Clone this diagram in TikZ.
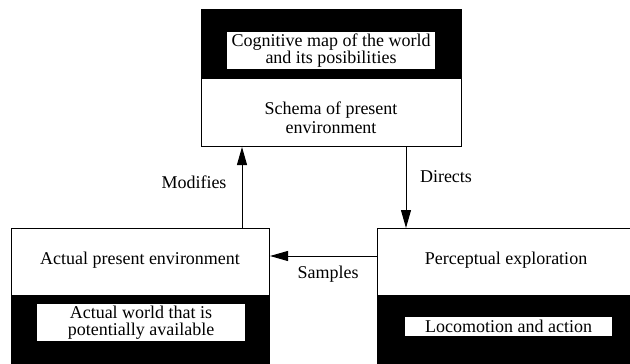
\documentclass[tikz,border=0pt]{standalone}
\usepackage{fontspec}
\setmainfont{Liberation Serif}
\usetikzlibrary{arrows.meta}
\begin{document}
\begin{tikzpicture}[x=1pt,y=-1pt,
  frame/.style={draw=black, line width=1pt, fill=white, inner sep=0pt,
    anchor=north west, minimum width=#1, minimum height=150pt},
  caption/.style={fill=white, inner sep=0pt, align=center,
    font=\fontsize{18}{17.5}\selectfont},
  plain/.style={inner sep=0pt, align=center,
    font=\fontsize{18}{18.5}\selectfont},
  arr/.style={line width=1pt, -{Triangle[length=18pt,width=10pt]}}]
\useasboundingbox (0,0) rectangle (630,364);
\fill[white] (0,0) rectangle (630,364);
\clip (0,0) rectangle (630,364);

% top box: black band above, white lower part
\node[frame=260pt, minimum height=137pt] (schemaBox) at (201,9) {};
\fill[black] (schemaBox.north west) rectangle (461,79);
\node[caption, minimum width=208pt, minimum height=37pt] (cogMap) at (331,50.5)
  {Cognitive map of the world\\and its posibilities};
\node[plain] (schema) at (331,118) {Schema of present\\environment};

% lower left box
\node[frame=258pt] (envBox) at (11,228) {};
\fill[black] (11,295) rectangle (envBox.south east);
\node[caption, minimum width=208pt, minimum height=37pt] (world) at (141,322.5)
  {Actual world that is\\potentially available};
\node[plain] (env) at (140,260) {Actual present environment};

% lower right box
\node[frame=258pt] (explBox) at (377,228) {};
\fill[black] (377,295) rectangle (explBox.south east);
\node[caption, minimum width=207pt, minimum height=19pt] (loco) at (508.5,326.5)
  {Locomotion and action};
\node[plain] (expl) at (506,260) {Perceptual exploration};

% connectors
\coordinate (mx) at (242,0);
\coordinate (dx) at (406,0);
\coordinate (sy) at (0,256);
\draw[arr] (mx |- envBox.north) -- (mx |- schemaBox.south);
\draw[arr] (dx |- schemaBox.south) -- (dx |- explBox.north);
\draw[arr] (explBox.west |- sy) -- (envBox.east |- sy);

\node[plain] (modLbl) at (194,182) {Modifies};
\node[plain] (dirLbl) at (446,177) {Directs};
\node[plain] (samLbl) at (328,274) {Samples};
\end{tikzpicture}
\end{document}
